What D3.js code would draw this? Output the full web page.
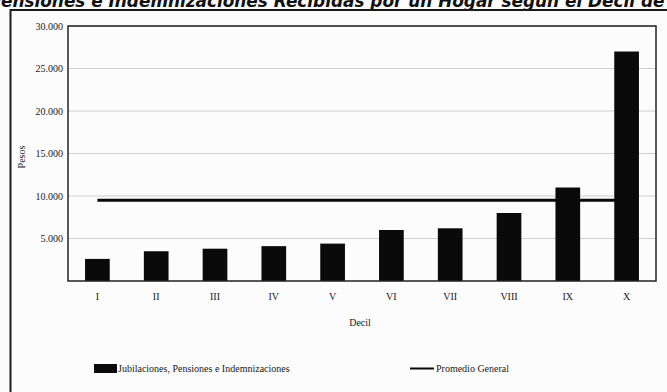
<!DOCTYPE html>
<html>
<head>
<meta charset="utf-8">
<script src="https://cdn.jsdelivr.net/npm/d3@7"></script>
<style>
  html, body { margin: 0; padding: 0; background: #fcfcfc; }
  svg { display: block; }
</style>
</head>
<body>
<svg id="chart" width="667" height="392"></svg>
<script>
// Deciles de ingreso y monto medio recibido por hogar (pesos)
const deciles = ["I", "II", "III", "IV", "V", "VI", "VII", "VIII", "IX", "X"];
const jubilaciones = [2600, 3500, 3800, 4100, 4400, 6000, 6200, 8000, 11000, 27000];
const promedioGeneral = [9500, 9500, 9500, 9500, 9500, 9500, 9500, 9500, 9500, 9500];
const yTicks = [5000, 10000, 15000, 20000, 25000, 30000];
const yTickLabels = ["5.000", "10.000", "15.000", "20.000", "25.000", "30.000"];

const titulo = "Pensiones e Indemnizaciones Recibidas por un Hogar según el Decil de Ingreso";
const serieBarras = "Jubilaciones, Pensiones e Indemnizaciones";
const serieLinea = "Promedio General";

const svg = d3.select("#chart");
const serif = "'Liberation Serif', 'DejaVu Serif', serif";

const plot = { left: 68, right: 656, top: 26, bottom: 281 };

const x = d3.scaleBand()
  .domain(deciles)
  .range([plot.left, plot.right])
  .paddingInner(0.58)
  .paddingOuter(0.29);

const y = d3.scaleLinear()
  .domain([0, 30000])
  .range([plot.bottom, plot.top]);

// Title (runs off the top and sides of the page)
const title = svg.append("text")
  .attr("font-family", "'DejaVu Sans', Verdana, sans-serif")
  .attr("font-weight", "bold")
  .attr("font-style", "italic")
  .attr("font-size", 16)
  .attr("fill", "#111")
  .text(titulo);
{
  const node = title.node();
  const start = 1;                                 // skip the leading "P"
  const end = titulo.indexOf("Decil de") + "Decil de".length;
  const visible = node.getSubStringLength(start, end - start);
  const fs = 16 * 664 / visible;
  title.attr("font-size", fs);
  const lead = node.getSubStringLength(0, start);
  title.attr("x", -lead + 1).attr("y", 7);
}

// Outer frame
svg.append("rect")
  .attr("x", 10.5).attr("y", 10)
  .attr("width", 720).attr("height", 420)
  .attr("fill", "none")
  .attr("stroke", "#1a1a1a")
  .attr("stroke-width", 2);

// Gridlines
svg.append("g")
  .selectAll("line")
  .data(yTicks)
  .join("line")
  .attr("x1", plot.left).attr("x2", plot.right)
  .attr("y1", d => y(d)).attr("y2", d => y(d))
  .attr("stroke", "#c4c4c4")
  .attr("stroke-width", 0.8);

// Y axis labels
const yAxis = d3.axisLeft(y)
  .tickValues(yTicks)
  .tickFormat((d, i) => yTickLabels[i])
  .tickSize(0)
  .tickPadding(5);
const gy = svg.append("g")
  .attr("transform", `translate(${plot.left},0)`)
  .call(yAxis);
gy.select(".domain").remove();
gy.selectAll("text")
  .attr("font-family", serif)
  .attr("font-size", 10)
  .attr("fill", "#1a1a1a");

// X axis labels
const xAxis = d3.axisBottom(x).tickSize(0).tickPadding(12);
const gx = svg.append("g")
  .attr("transform", `translate(0,${plot.bottom})`)
  .call(xAxis);
gx.select(".domain").remove();
gx.selectAll("text")
  .attr("font-family", serif)
  .attr("font-size", 10)
  .attr("fill", "#1a1a1a");

// Bars
svg.append("g")
  .selectAll("rect")
  .data(deciles)
  .join("rect")
  .attr("x", d => x(d))
  .attr("width", x.bandwidth())
  .attr("y", (d, i) => y(jubilaciones[i]))
  .attr("height", (d, i) => plot.bottom - y(jubilaciones[i]))
  .attr("fill", "#0a0a0a");

// Promedio general line
const line = d3.line()
  .x((d, i) => x(deciles[i]) + x.bandwidth() / 2)
  .y(d => y(d));
svg.append("path")
  .datum(promedioGeneral)
  .attr("d", line)
  .attr("fill", "none")
  .attr("stroke", "#0a0a0a")
  .attr("stroke-width", 2.8);

// Plot area border
svg.append("rect")
  .attr("x", plot.left).attr("y", plot.top)
  .attr("width", plot.right - plot.left)
  .attr("height", plot.bottom - plot.top)
  .attr("fill", "none")
  .attr("stroke", "#222")
  .attr("stroke-width", 1.5);

// Axis titles
svg.append("text")
  .attr("x", 360).attr("y", 326)
  .attr("text-anchor", "middle")
  .attr("font-family", serif)
  .attr("font-size", 10)
  .attr("fill", "#1a1a1a")
  .text("Decil");

svg.append("text")
  .attr("transform", "translate(25,157) rotate(-90)")
  .attr("text-anchor", "middle")
  .attr("font-family", serif)
  .attr("font-size", 10)
  .attr("fill", "#1a1a1a")
  .text("Pesos");

// Legend
const legend = svg.append("g").attr("font-family", serif).attr("font-size", 10).attr("fill", "#1a1a1a");
legend.append("rect")
  .attr("x", 94).attr("y", 364)
  .attr("width", 23).attr("height", 9)
  .attr("fill", "#0a0a0a");
legend.append("text")
  .attr("x", 118).attr("y", 372)
  .text(serieBarras);
legend.append("line")
  .attr("x1", 410).attr("x2", 434)
  .attr("y1", 368.5).attr("y2", 368.5)
  .attr("stroke", "#0a0a0a")
  .attr("stroke-width", 2);
legend.append("text")
  .attr("x", 436).attr("y", 372)
  .text(serieLinea);
</script>
</body>
</html>
